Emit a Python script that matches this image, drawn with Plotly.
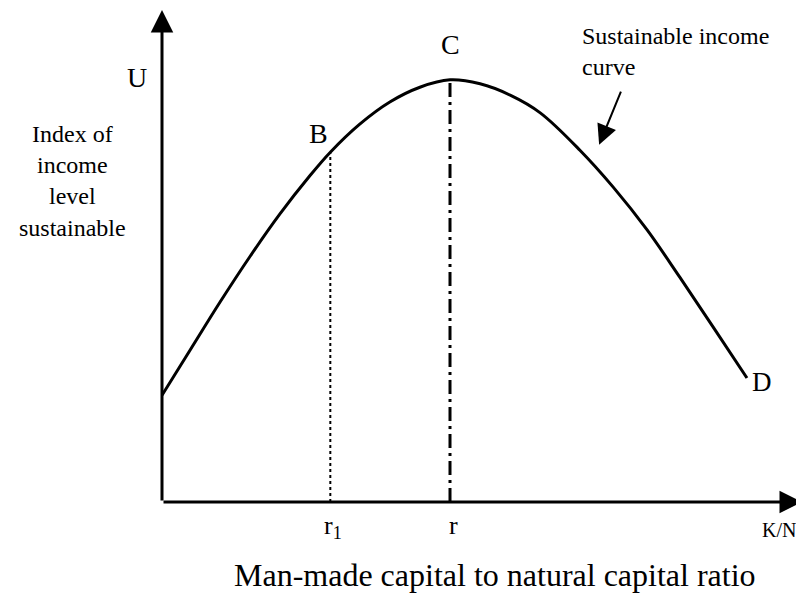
"""
Sustainable income curve: index of sustainable income vs K/N ratio.
"""
import plotly.graph_objects as go

# ── Data ──────────────────────────────────────────────────────────────────────
kn_ratio = [0.0, 0.44, 0.91, 1.38, 1.84, 2.31, 2.63, 3.09, 3.56, 4.03, 4.50,
            4.97, 5.44, 5.91, 6.53, 7.05, 7.58, 8.09, 8.61, 9.14]
income_index = [2.17, 3.09, 4.07, 5.00, 5.85, 6.63, 7.11, 7.68, 8.13, 8.43, 8.58,
                 8.50, 8.27, 7.91, 7.15, 6.40, 5.53, 4.57, 3.56, 2.52]
r1_idx = 6    # point B
r_idx = 10    # point C (peak)

FONT = "Liberation Serif, Times New Roman, serif"
BLACK = "#000000"

fig = go.Figure()

# sustainable income curve
fig.add_trace(go.Scatter(
    x=kn_ratio, y=income_index, mode="lines",
    line=dict(color=BLACK, width=3, shape="spline", smoothing=1),
    hoverinfo="skip", showlegend=False,
))

# r1 (dotted) and r (dash-dot) drop lines
fig.add_trace(go.Scatter(
    x=[kn_ratio[r1_idx]] * 2, y=[0, income_index[r1_idx]], mode="lines",
    line=dict(color=BLACK, width=2, dash="dot"), hoverinfo="skip", showlegend=False,
))
fig.add_trace(go.Scatter(
    x=[kn_ratio[r_idx]] * 2, y=[0, income_index[r_idx]], mode="lines",
    line=dict(color=BLACK, width=3, dash="14px,5px,3px,5px"), hoverinfo="skip", showlegend=False,
))

def label(text, x, y, size=28, xanchor="center", yanchor="middle", **kw):
    # axis range [0, 10] fills the plot domain, so paper = data / 10
    return dict(text=text, x=x / 10, y=y / 10, xref="paper", yref="paper", showarrow=False,
                xanchor=xanchor, yanchor=yanchor,
                font=dict(family=FONT, size=size, color=BLACK), **kw)

annotations = [
    # axes as arrows
    dict(x=0, y=10, ax=0, ay=0, xref="x", yref="y", axref="x", ayref="y", text="",
         showarrow=True, arrowhead=2, arrowwidth=3, arrowsize=1.5, arrowcolor=BLACK, standoff=0),
    dict(x=10, y=0, ax=0, ay=0, xref="x", yref="y", axref="x", ayref="y", text="",
         showarrow=True, arrowhead=2, arrowwidth=3, arrowsize=1.5, arrowcolor=BLACK, standoff=0),
    # pointer to the curve
    dict(x=6.83, y=7.26, ax=7.18, ay=8.37, xref="x", yref="y", axref="x", ayref="y", text="",
         showarrow=True, arrowhead=2, arrowwidth=2, arrowsize=2, arrowcolor=BLACK, standoff=0),
    label("U", -0.39, 8.62),
    label("B", 2.44, 7.5),
    label("C", kn_ratio[r_idx], 9.29),
    label("D", 9.38, 2.44, size=27),
    label("r<sub>1</sub>", 2.67, -0.51, size=26),
    label("r", 4.55, -0.47, size=26),
    label("K/N", 9.64, -0.57, size=20),
    label("Index of<br>income<br>level<br>sustainable", -1.40, 6.52, size=24, align="center"),
    label("Sustainable income<br>curve", 6.53, 9.78, size=24, align="left",
          xanchor="left", yanchor="top"),
    label("Man-made capital to natural capital ratio", 5.2, -1.49, size=32),
]

# the page body adds an 8 px margin, so the figure is 8 px smaller each way
fig.update_layout(
    width=796, height=594,
    paper_bgcolor="white", plot_bgcolor="white",
    margin=dict(l=154, r=2, t=2, b=100),
    xaxis=dict(range=[0, 10], visible=False, fixedrange=True),
    yaxis=dict(range=[0, 10], visible=False, fixedrange=True),
    annotations=annotations,
    showlegend=False,
)

fig.write_html("out.html")
